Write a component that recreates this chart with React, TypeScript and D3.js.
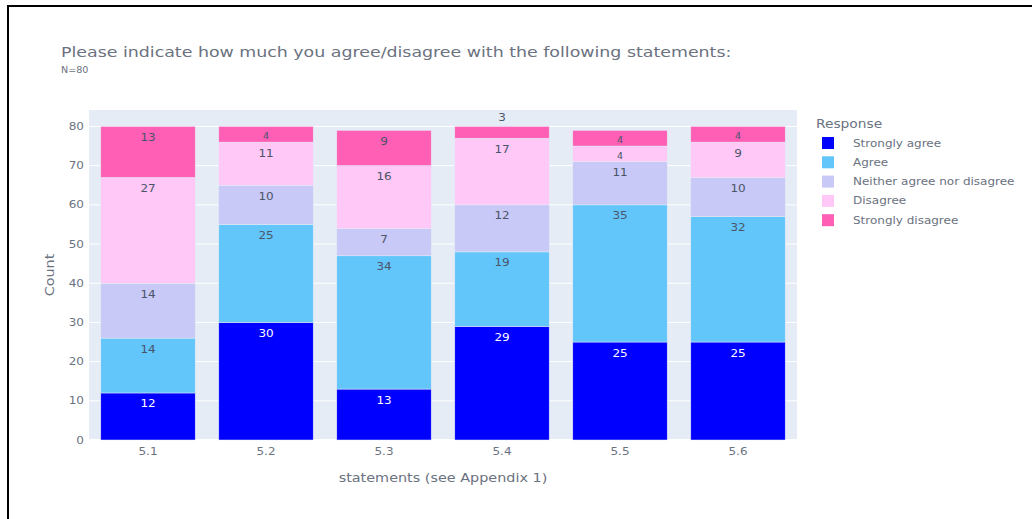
import React from "react";
import * as d3 from "d3";

const categories = ["5.1", "5.2", "5.3", "5.4", "5.5", "5.6"];
const responses = ["Strongly agree", "Agree", "Neither agree nor disagree", "Disagree", "Strongly disagree"];
const stronglyAgree = [12, 30, 13, 29, 25, 25];
const agree = [14, 25, 34, 19, 35, 32];
const neither = [14, 10, 7, 12, 11, 10];
const disagree = [27, 11, 16, 17, 4, 9];
const stronglyDisagree = [13, 4, 9, 3, 4, 4];
const yTicks = [0, 10, 20, 30, 40, 50, 60, 70, 80];
const colors = ["#0000FF", "#62C6FB", "#C9C9F7", "#FFC8F6", "#FF5FB4"];
const textColors = ["#ffffff", "#4a5568", "#4a5568", "#4a5568", "#4a5568"];

const series = [stronglyAgree, agree, neither, disagree, stronglyDisagree];

const W = 1032, H = 519;
const left = 89, right = 797, top = 110, bottom = 440;
const font = "'DejaVu Sans', Verdana, sans-serif";
const grey = "#6b7280";
const SX = 1.2;

function T(props: { x: number; y: number; size: number; anchor?: string; fill?: string; rotate?: boolean; dy?: string; children: React.ReactNode }) {
  const tr = props.rotate
    ? `translate(${props.x},${props.y}) rotate(-90) scale(${SX},1)`
    : `translate(${props.x},${props.y}) scale(${SX},1)`;
  return (
    <text transform={tr} dy={props.dy} textAnchor={props.anchor || "start"} fontSize={props.size} fill={props.fill || grey} fontFamily={font}>
      {props.children}
    </text>
  );
}

export default function App() {
  const x = d3.scaleBand<string>().domain(categories).range([left, right]).paddingInner(0.2).paddingOuter(0.1);
  const y = d3.scaleLinear().domain([0, 84.2]).range([bottom, top]);
  const rows = categories.map((c, i) => {
    const o: any = { cat: c };
    responses.forEach((r, k) => (o[r] = series[k][i]));
    return o;
  });
  const stacked = d3.stack<any>().keys(responses)(rows);

  return (
    <svg width={W} height={H} style={{ position: "absolute", left: 0, top: 0, background: "#fff" }}>
      <rect x={8} y={6} width={1100} height={700} fill="none" stroke="#000" strokeWidth={2} />
      <rect x={left} y={top} width={right - left} height={bottom - top} fill="#E5ECF6" />
      {yTicks.map((t) => (
        <g key={t}>
          <line x1={left} x2={right} y1={y(t)} y2={y(t)} stroke="#fff" strokeWidth={t === 0 ? 2 : 1} />
          <T x={left - 5} y={y(t)} dy="0.35em" anchor="end" size={10}>{t}</T>
        </g>
      ))}
      {stacked.map((layer, k) => (
        <g key={layer.key}>
          {layer.map((d, i) => {
            const x0 = x(categories[i])!;
            const bw = x.bandwidth();
            const yt = y(d[1]);
            const yb = y(d[0]);
            const h = yb - yt;
            const val = d[1] - d[0];
            const isTop = k === responses.length - 1;
            let label: React.ReactNode;
            if (h < 13 && isTop) {
              label = <T x={x0 + bw / 2} y={yt - 5} anchor="middle" size={10} fill="#4a5568">{val}</T>;
            } else {
              const fs = h >= 20 ? 10 : Math.max(6, h * 0.5);
              label = <T x={x0 + bw / 2} y={yt + 6 + fs * 0.85} anchor="middle" size={fs} fill={textColors[k]}>{val}</T>;
            }
            return (
              <g key={i}>
                <rect x={x0} y={yt} width={bw} height={h} fill={colors[k]} stroke="#E5ECF6" strokeWidth={0.5} />
                {label}
              </g>
            );
          })}
        </g>
      ))}
      {categories.map((c) => (
        <T key={c} x={x(c)! + x.bandwidth() / 2} y={bottom + 15} anchor="middle" size={10}>{c}</T>
      ))}
      <T x={(left + right) / 2} y={482} anchor="middle" size={12}>statements (see Appendix 1)</T>
      <T x={54} y={(top + bottom) / 2} anchor="middle" size={12} rotate>Count</T>
      <T x={61} y={57} size={14.5}>Please indicate how much you agree/disagree with the following statements:</T>
      <T x={61} y={73} size={8}>N=80</T>
      <T x={816} y={128} size={11.5}>Response</T>
      {responses.map((r, k) => (
        <g key={r} transform={`translate(822,${143 + k * 19.3})`}>
          <rect x={0} y={-6} width={12} height={12} fill={colors[k]} />
          <T x={31} y={0} dy="0.35em" size={10}>{r}</T>
        </g>
      ))}
    </svg>
  );
}
